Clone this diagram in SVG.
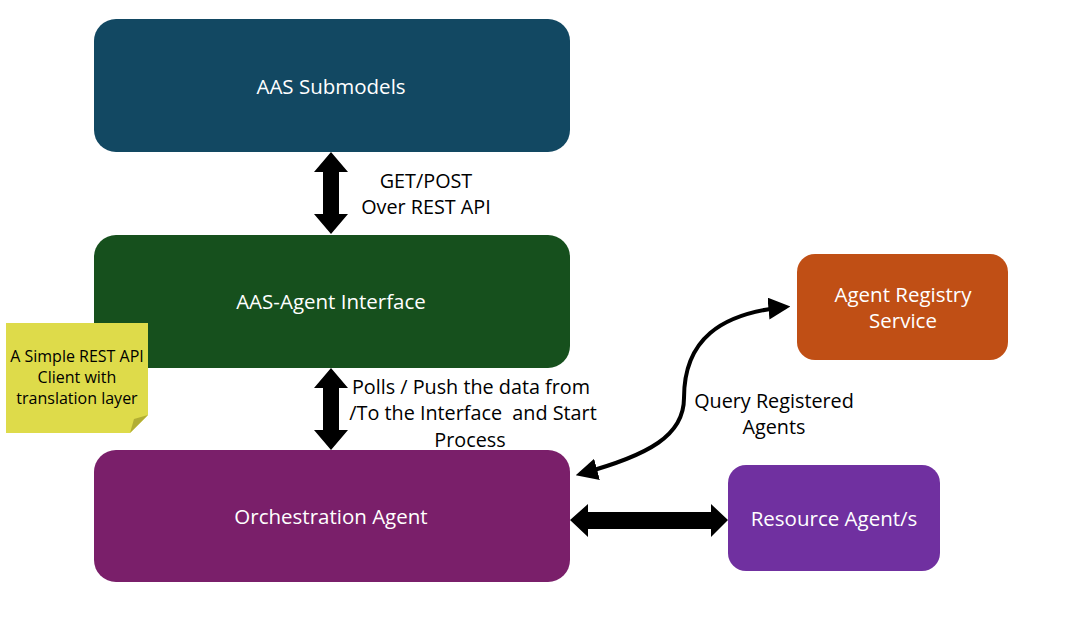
<svg xmlns="http://www.w3.org/2000/svg" width="1071" height="638" viewBox="0 0 1071 638">
<defs>
<style>
.lbl{font-family:"Open Sans","Liberation Sans",sans-serif;font-size:20.5px;fill:#ffffff;text-anchor:middle}
.txt{font-family:"Open Sans","Liberation Sans",sans-serif;font-size:19.8px;fill:#000000;text-anchor:middle;white-space:pre}
.note{font-family:"Open Sans","Liberation Sans",sans-serif;font-size:16px;fill:#000000;text-anchor:middle}
.blk{fill:#000000}
</style>
<marker id="ah" viewBox="0 0 10 10" refX="8" refY="5" markerWidth="5.5" markerHeight="5.5" orient="auto-start-reverse" markerUnits="strokeWidth">
<path d="M0,0 L10,5 L0,10 Z" fill="#000"/>
</marker>
</defs>
<rect width="1071" height="638" fill="#ffffff"/>
<g id="aas-submodels">
<rect x="94" y="19" width="476" height="133" rx="22" fill="#124862"/>
<text class="lbl" x="331" y="94">AAS Submodels</text>
</g>
<g id="aas-agent-interface">
<rect x="94" y="235" width="476" height="133" rx="22" fill="#16501d"/>
<text class="lbl" x="331" y="309">AAS-Agent Interface</text>
</g>
<g id="orchestration-agent">
<rect x="94" y="450" width="476" height="132" rx="22" fill="#7a1f6a"/>
<text class="lbl" x="331" y="524">Orchestration Agent</text>
</g>
<g id="agent-registry">
<rect x="797" y="254" width="211" height="106" rx="18" fill="#c04f15"/>
<text class="lbl" x="903" y="302">Agent Registry</text>
<text class="lbl" x="903" y="328">Service</text>
</g>
<g id="resource-agents">
<rect x="728" y="465" width="212" height="106" rx="18" fill="#7030a0"/>
<text class="lbl" x="834" y="526">Resource Agent/s</text>
</g>
<g id="sticky-note">
<path d="M6,323 H148 V415 L130,433 H6 Z" fill="#dedb4a"/>
<path d="M130,433 L134,419 L148,415 Z" fill="#b2ae33"/>
<text class="note" x="77" y="362">A Simple REST API</text>
<text class="note" x="77" y="383">Client with</text>
<text class="note" x="77" y="404">translation layer</text>
</g>
<g id="connectors">
<path class="blk" d="M331,152 L348,172 L339,172 L339,214 L348,214 L331,234 L314,214 L323,214 L323,172 L314,172 Z"/>
<path class="blk" d="M331,368 L348,388 L339,388 L339,430 L348,430 L331,450 L314,430 L323,430 L323,388 L314,388 Z"/>
<path class="blk" d="M570,520 L588,504 L588,512 L711,512 L711,504 L728,520 L711,537 L711,529 L588,529 L588,537 Z"/>
<path d="M580,474 C650,455 684,435 684,398 C684,340 720,313 786,307" fill="none" stroke="#000" stroke-width="4" marker-start="url(#ah)" marker-end="url(#ah)"/>
<text class="txt" x="426" y="188">GET/POST</text>
<text class="txt" x="426" y="214">Over REST API</text>
<text class="txt" x="471" y="394">Polls / Push the data from</text>
<text class="txt" x="473" y="420" xml:space="preserve">/To the Interface  and Start</text>
<text class="txt" x="470" y="447">Process</text>
<text class="txt" x="774" y="408">Query Registered</text>
<text class="txt" x="774" y="434">Agents</text>
</g>
</svg>
